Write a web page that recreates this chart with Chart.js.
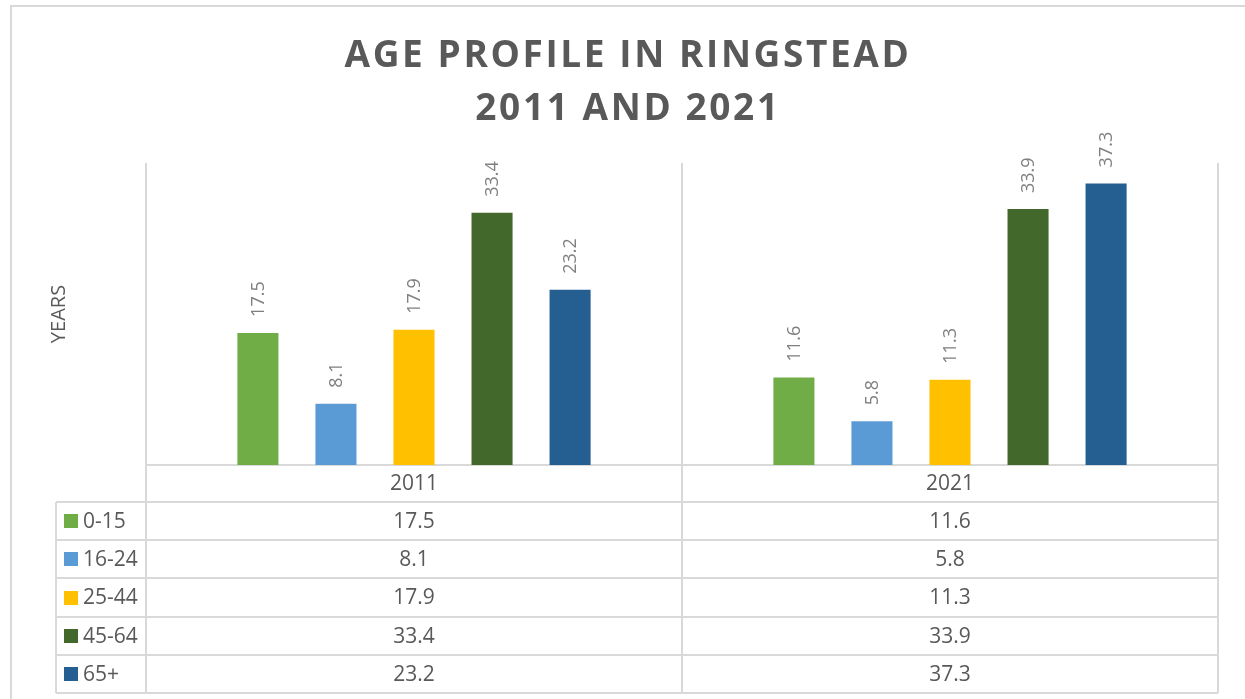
<!DOCTYPE html>
<html>
<head>
<meta charset="utf-8">
<title>Age profile in Ringstead</title>
<script src="https://cdn.jsdelivr.net/npm/chart.js@4.4.1/dist/chart.umd.min.js"></script>
<style>
  html, body { margin: 0; padding: 0; background: #ffffff; overflow: hidden; }
  #wrap { position: relative; width: 1245px; height: 699px; }
</style>
</head>
<body>
<div id="wrap"><canvas id="mycanvas"></canvas></div>
<script>
// census years along the x axis
var years = ['2011', '2021'];

// age bands (one dataset each)
var bands = ['0-15', '16-24', '25-44', '45-64', '65+'];

// values per band, 2011 then 2021
var band0to15 = [17.5, 11.6];
var band16to24 = [8.1, 5.8];
var band25to44 = [17.9, 11.3];
var band45to64 = [33.4, 33.9];
var band65plus = [23.2, 37.3];

var bandColours = ['#70ad47', '#5b9bd5', '#ffc000', '#43682b', '#255e91'];

var titleLines = ['AGE PROFILE IN RINGSTEAD', '2011 AND 2021'];
var yTitle = 'YEARS';

var FONT = '"Open Sans", "DejaVu Sans", sans-serif';
var GREY_TEXT = '#595959';
var LINE = '#d9d9d9';

var allValues = [band0to15, band16to24, band25to44, band45to64, band65plus];

var datasets = [];
for (var i in bands) {
  datasets.push({
    label: bands[i],
    data: allValues[i],
    backgroundColor: bandColours[i],
    borderWidth: 0,
    barPercentage: 0.526,
    categoryPercentage: 0.728
  });
}

// frame, title, axis title, gridlines, data labels and the data table underneath
var excelLook = {
  id: 'excelLook',
  beforeDatasetsDraw: function(chart) {
    var ctx = chart.ctx;
    var area = chart.chartArea;
    var n = years.length;
    var colW = (area.right - area.left) / n;
    var headerBottom = area.bottom + 37;
    var rowH = 38.2;
    var tableBottom = headerBottom + rowH * bands.length;
    var legendLeft = 56;

    ctx.save();
    ctx.strokeStyle = LINE;
    ctx.lineWidth = 2;

    // outer chart frame (left + top)
    ctx.beginPath();
    ctx.moveTo(11, 699);
    ctx.lineTo(11, 6);
    ctx.lineTo(1245, 6);
    ctx.stroke();

    // vertical lines at category boundaries, running down through the table
    ctx.beginPath();
    for (var c = 0; c <= n; c++) {
      var x = Math.round(area.left + c * colW);
      ctx.moveTo(x, area.top);
      ctx.lineTo(x, tableBottom);
    }
    // baseline / header top
    ctx.moveTo(area.left, area.bottom);
    ctx.lineTo(area.right, area.bottom);
    // table rows
    for (var r = 0; r <= bands.length; r++) {
      var y = Math.round(headerBottom + r * rowH);
      ctx.moveTo(legendLeft, y);
      ctx.lineTo(area.right, y);
    }
    ctx.moveTo(legendLeft, headerBottom);
    ctx.lineTo(legendLeft, tableBottom);
    ctx.stroke();

    // title
    ctx.fillStyle = GREY_TEXT;
    ctx.textAlign = 'center';
    ctx.textBaseline = 'alphabetic';
    ctx.font = 'bold 37px ' + FONT;
    ctx.letterSpacing = '2.6px';
    ctx.fillText(titleLines[0], 628, 67);
    ctx.fillText(titleLines[1], 628, 120);
    ctx.letterSpacing = '0px';

    // y axis title
    ctx.save();
    ctx.translate(59, (area.top + area.bottom) / 2);
    ctx.rotate(-Math.PI / 2);
    ctx.textBaseline = 'middle';
    ctx.font = '20px ' + FONT;
    ctx.fillText(yTitle, 0, 0);
    ctx.restore();

    // header row: years
    ctx.font = '21px ' + FONT;
    ctx.textBaseline = 'middle';
    for (var c2 = 0; c2 < n; c2++) {
      var cx = area.left + (c2 + 0.5) * colW;
      ctx.fillText(years[c2], cx, (area.bottom + headerBottom) / 2 + 1);
    }

    // value rows with legend keys
    for (var b = 0; b < bands.length; b++) {
      var cy = headerBottom + (b + 0.5) * rowH + 1;
      ctx.fillStyle = bandColours[b];
      ctx.fillRect(64, Math.round(cy - 8), 14, 14);
      ctx.fillStyle = GREY_TEXT;
      ctx.textAlign = 'left';
      ctx.fillText(bands[b], 83, cy);
      ctx.textAlign = 'center';
      for (var c3 = 0; c3 < n; c3++) {
        var vx = area.left + (c3 + 0.5) * colW;
        ctx.fillText(allValues[b][c3].toFixed(1), vx, cy);
      }
    }
    ctx.restore();
  },
  afterDatasetsDraw: function(chart) {
    var ctx = chart.ctx;
    ctx.save();
    ctx.fillStyle = '#7f7f7f';
    ctx.font = '18px ' + FONT;
    ctx.textAlign = 'left';
    ctx.textBaseline = 'middle';
    chart.data.datasets.forEach(function(ds, i) {
      var meta = chart.getDatasetMeta(i);
      meta.data.forEach(function(bar, j) {
        ctx.save();
        ctx.translate(bar.x, bar.y - 16);
        ctx.rotate(-Math.PI / 2);
        ctx.fillText(ds.data[j].toFixed(1), 0, 1);
        ctx.restore();
      });
    });
    ctx.restore();
  }
};

var ctx = document.getElementById('mycanvas').getContext('2d');

var ageChart = new Chart(ctx, {
  type: 'bar',
  data: {
    labels: years,
    datasets: datasets
  },
  options: {
    responsive: true,
    maintainAspectRatio: false,
    animation: false,
    devicePixelRatio: 1,
    layout: {
      padding: { left: 146, right: 27, top: 163, bottom: 234 }
    },
    plugins: {
      legend: { display: false },
      title: { display: false },
      tooltip: { enabled: false }
    },
    scales: {
      x: { display: false },
      y: { display: false, min: 0, max: 40 }
    }
  },
  plugins: [excelLook]
});
</script>
</body>
</html>
